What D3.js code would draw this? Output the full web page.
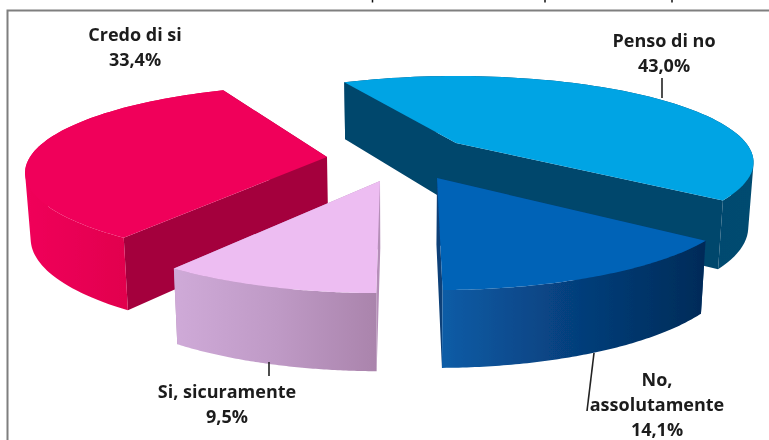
<!DOCTYPE html>
<html><head><meta charset="utf-8">
<script src="https://cdn.jsdelivr.net/npm/d3@7"></script>
<style>html,body{margin:0;padding:0;background:#fff}svg{display:block}</style>
</head><body><div id="chart"></div>
<script>
// DATA
const categories = ["Penso di no","No, assolutamente","Si, sicuramente","Credo di si"];
const values = [43.0,14.1,9.5,33.4];
const valueLabels = ["43,0%","14,1%","9,5%","33,4%"];

// LAYOUT (projection of a tilted, exploded pie)
const W=769,H=440;
const colors = {
  top:["#00a4e4","#0563b7","#edbdf2","#f0005a"],
  side:["#04466c","#0a3f78","#b58fb8","#a4003e"],
  wallFrom:["#04466c","#0b5ca6","#cfaad8","#f0005a"],
  wallMid:["#04466c","#063f7c","#bf9ac6","#e2004e"],
  wallTo:["#034b70","#002b58","#aa84ac","#e2004e"]
};
const apex=[[456,143],[437,178],[380,181],[327,157]];
const twist=[-2.5,-1.4,0,1];
const radius=[290,295,295,297], flat=[82,87,87,85], persp=[0.224,0.224,0.224,0.18];
const paintOrder=[0,3,1,2];
const labelPos=[[664,41],[657,380],[227,392],[135,35]];
const labelLines=[["Penso di no"],["No,","assolutamente"],["Si, sicuramente"],["Credo di si"]];
const leaders=[[[662,78],[662,98]],[[594,353],[587,411]],[[269,362],[269,376]]];
const clippedTitleMarks=[372.5,545,672];

const svg=d3.select("#chart").append("svg").attr("width",W).attr("height",H);
const defs=svg.append("defs");
defs.append("filter").attr("id","soft").attr("x",0).attr("y",0).attr("width","100%").attr("height","100%")
  .append("feGaussianBlur").attr("stdDeviation",0.45);
const g=svg.append("g").attr("filter","url(#soft)");
g.append("rect").attr("width",W).attr("height",H).attr("fill","#fff");

const pie=d3.pie().sort(null).value(d=>d).startAngle(335*Math.PI/180).endAngle((335+360)*Math.PI/180);
const arcs=pie(values);
const line=d3.line();
const project=(i,a)=>{
  const b=a+twist[i]*Math.PI/180,u=Math.sin(b),v=-Math.cos(b),f=1/(1-persp[i]*v);
  return [apex[i][0]+radius[i]*u*f, apex[i][1]+flat[i]*v*f];
};
const down=p=>[400+(p[0]-400)*0.985, p[1]+57+0.1*(p[1]-82)];
const quad=(a,b)=>{const q=[a,b,down(b),down(a)];return d3.polygonArea(q)<0?q.reverse():q;};

paintOrder.forEach(i=>{
  const d=arcs[i], slice=g.append("g").attr("class","slice");
  const as=d3.range(0,81).map(k=>d.startAngle+(d.endAngle-d.startAngle)*k/80);
  const rim=as.map(a=>project(i,a));
  const c=apex[i];
  // radial cut faces
  slice.append("path").attr("d",line(quad(c,rim[0]))+"Z"+line(quad(c,rim[80]))+"Z").attr("fill",colors.side[i]);
  // outer wall, shaded left to right on screen: one path of consistently wound quads
  const xs=d3.extent(rim,p=>p[0]);
  const gid="wall"+i;
  const lg=defs.append("linearGradient").attr("id",gid).attr("gradientUnits","userSpaceOnUse")
    .attr("x1",xs[0]).attr("x2",xs[1]).attr("y1",0).attr("y2",0);
  [[0,colors.wallFrom[i]],[.5,colors.wallMid[i]],[1,colors.wallTo[i]]].forEach(s=>
    lg.append("stop").attr("offset",s[0]).attr("stop-color",s[1]));
  slice.append("path")
    .attr("d",d3.range(80).map(k=>line(quad(rim[k],rim[k+1]))+"Z").join(""))
    .attr("fill",`url(#${gid})`);
  // top
  slice.append("path").attr("d",line([c,...rim])+"Z").attr("fill",colors.top[i]);
});

// frame
g.append("path").attr("d",`M7.5,${H}V10.5H${W}`).attr("fill","none").attr("stroke","#7f7f7f").attr("stroke-width",2);

// tiny clipped bits at the top edge
clippedTitleMarks.forEach(x=>g.append("path").attr("d",line([[x,0],[x,2.5]])).attr("stroke","#111").attr("stroke-width",1.5));

// leaders
leaders.forEach(l=>g.append("path").attr("d",line(l)).attr("stroke","#222").attr("stroke-width",1.6).attr("fill","none"));

// labels
categories.forEach((c,i)=>{
  const t=g.append("text").attr("text-anchor","middle").attr("font-family","'Open Sans', sans-serif").attr("font-weight",700).attr("font-size",18).attr("fill","#1c1c1c");
  const [x,y]=labelPos[i];
  const lines=[...labelLines[i],valueLabels[i]];
  lines.forEach((s,k)=>t.append("tspan").attr("x",x).attr("y",y+k*25+6).text(s));
});
</script></body></html>
